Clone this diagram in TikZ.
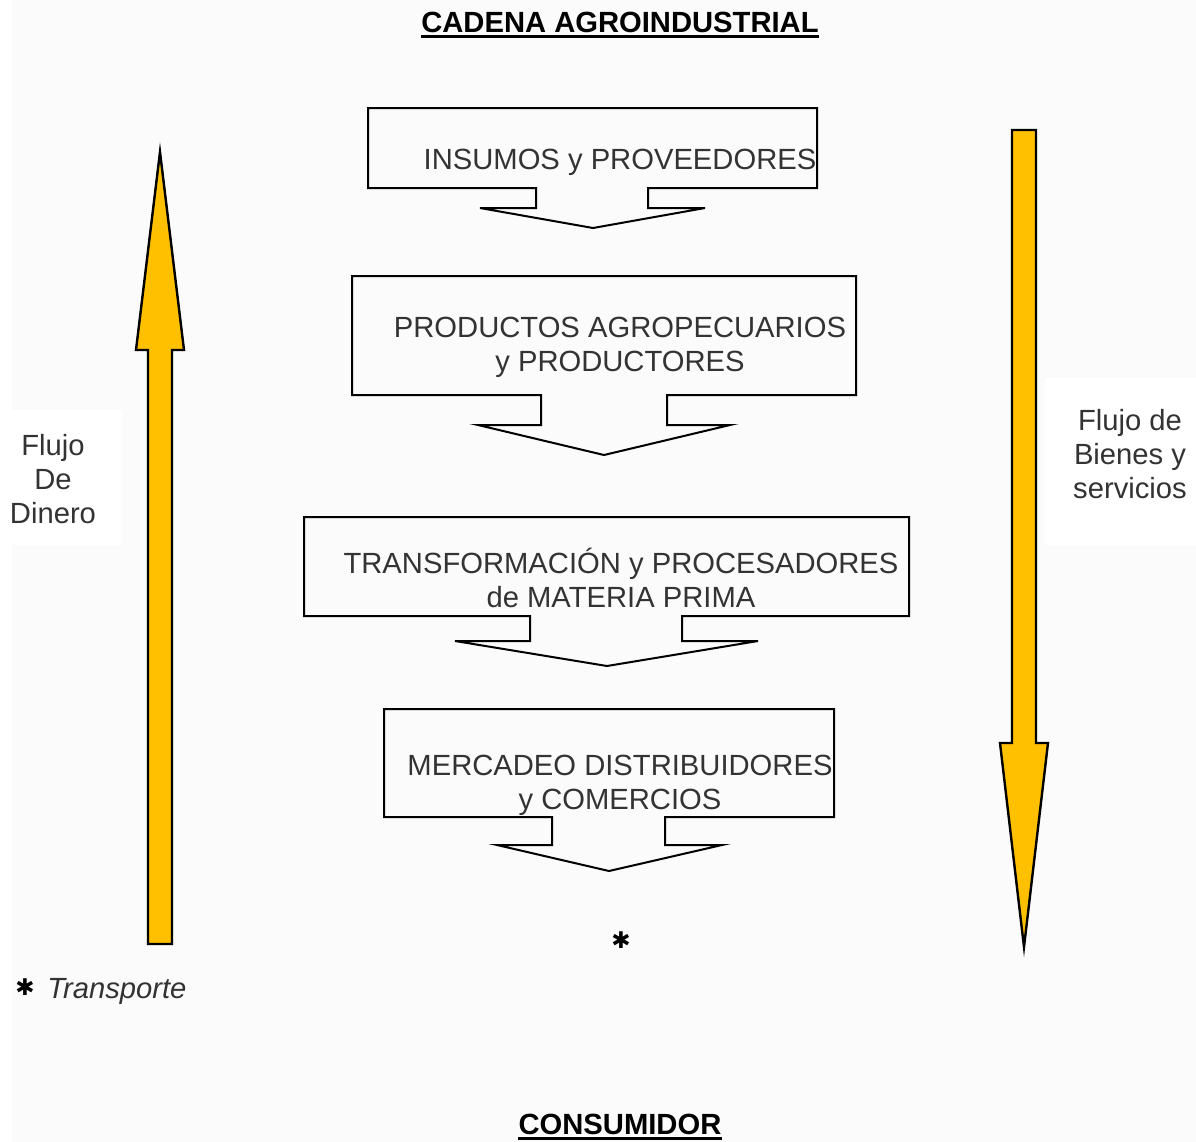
\documentclass[tikz,border=0pt]{standalone}
\usepackage{fontspec}
\setmainfont{Liberation Sans}
\newfontfamily\symfont{DejaVu Sans}
\usepackage{xcolor}
\usetikzlibrary{positioning}
\definecolor{flowYellow}{HTML}{FFC000}
\definecolor{labelGray}{HTML}{333333}
\definecolor{pageGray}{HTML}{FBFBFB}
\tikzstyle{callout} = [draw=black, line width=1pt, fill=pageGray, line join=miter]
\tikzstyle{stagetext} = [align=center, text=labelGray, inner sep=0pt, anchor=base, font=\fontsize{14.6}{17}\selectfont]
\tikzstyle{flow} = [draw=black, line width=1.2pt, fill=flowYellow, line join=miter]
\tikzstyle{heading} = [inner sep=0pt, anchor=base, font=\fontsize{14.6}{17}\selectfont\bfseries]
\tikzstyle{underbar} = [line width=1.5pt]
\tikzstyle{star} = [inner sep=0pt, font=\symfont\fontsize{11.5}{11.5}\selectfont]

\begin{document}
\begin{tikzpicture}[x=0.5pt, y=-0.5pt]

% Page
\useasboundingbox (0,0) rectangle (1196,1142);
\fill[white] (0,0) rectangle (1196,1142);
\fill[pageGray] (12,0) rectangle (1196,1142);
\fill[white] (12,410) rectangle (122,545);
\fill[white] (1045,378) rectangle (1196,545);

% Stages
\draw[callout] (368,108) -- (817,108) -- (817,188) -- (648,188) -- (648,208) -- (705,208) -- (593,228)
  -- (480,208) -- (536,208) -- (536,188) -- (368,188) -- cycle;
\draw[callout] (352,276) -- (856,276) -- (856,395) -- (667,395) -- (667,425) -- (730,425) -- (604,455)
  -- (478,425) -- (541,425) -- (541,395) -- (352,395) -- cycle;
\draw[callout] (304,517) -- (909,517) -- (909,616) -- (682,616) -- (682,641) -- (758,641) -- (607,666)
  -- (455,641) -- (530,641) -- (530,616) -- (304,616) -- cycle;
\draw[callout] (384,709) -- (834,709) -- (834,817) -- (665,817) -- (665,845) -- (722,845) -- (609,871)
  -- (497,845) -- (552,845) -- (552,817) -- (384,817) -- cycle;

% (base = last line)
\node (insumos) [stagetext] at (620,169) {INSUMOS y PROVEEDORES};
\node (productos) [stagetext] at (620,371) {PRODUCTOS AGROPECUARIOS\\y PRODUCTORES};
\node (transformacion) [stagetext] at (621,607) {TRANSFORMACIÓN y PROCESADORES\\de MATERIA PRIMA};
\node (mercadeo) [stagetext] at (620,809) {MERCADEO DISTRIBUIDORES\\y COMERCIOS};

% Flows
\draw[flow] (148,944) -- (148,350) -- (136,350) -- (160,152) -- (184,350) -- (172,350) -- (172,944) -- cycle;
\draw[flow] (1012,130) -- (1036,130) -- (1036,743) -- (1048,743) -- (1024,947) -- (1000,743) -- (1012,743) -- cycle;

\node (dinero) [stagetext] at (53,523) {Flujo\\De\\Dinero};
\node (bienes) [stagetext] at (1130,498) {Flujo de\\Bienes y\\servicios};

% Titles
\node (titulo) [heading] at (620,32) {CADENA AGROINDUSTRIAL};
\draw[underbar] ([yshift=-2pt]titulo.base west) -- ([yshift=-2pt]titulo.base east);
\node (consumidor) [heading] at (620,1134) {CONSUMIDOR};
\draw[underbar] ([yshift=-2pt]consumidor.base west) -- ([yshift=-2pt]consumidor.base east);

% Transport
\node (asterisco) [star] at (621,940) {✱};
\node (nota) [stagetext, anchor=base west, font=\fontsize{14.6}{17}\selectfont\itshape] at (47,998) {Transporte};
\node (notastar) [star, left=6pt of nota.west, anchor=east, yshift=2pt] {✱};

\end{tikzpicture}
\end{document}
